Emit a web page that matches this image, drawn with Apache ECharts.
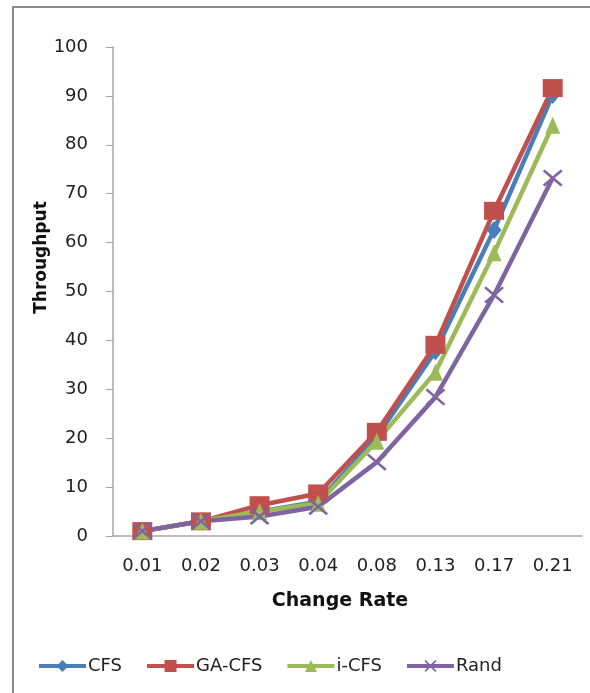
<!DOCTYPE html>
<html>
<head>
<meta charset="utf-8">
<script src="https://cdn.jsdelivr.net/npm/echarts@6/dist/echarts.min.js"></script>
<style>
  html, body { margin: 0; padding: 0; background: #ffffff; }
  #chart { width: 590px; height: 693px; }
</style>
</head>
<body>
<div id="chart"></div>
<script>
// Change rate categories on the x axis
const changeRates = ['0.01', '0.02', '0.03', '0.04', '0.08', '0.13', '0.17', '0.21'];

// Throughput per method
const cfs   = [1, 3, 5.0, 7.0, 20.3, 37.8, 62.6, 90.2];
const gaCfs = [1, 3, 6.3, 8.7, 21.3, 39.1, 66.5, 91.6];
const iCfs  = [1, 3, 5.0, 6.7, 19.4, 33.5, 57.9, 84.0];
const rand  = [1, 3, 4.0, 6.0, 15.1, 28.4, 49.3, 73.2];

// Y axis range
const yMin = 0, yMax = 100, yStep = 10;

const FONT = 'DejaVu Sans';
const crossPath = 'path://M0,1L1,0L5,4L9,0L10,1L6,5L10,9L9,10L5,6L1,10L0,9L4,5Z';

function lineSeries(name, data, color, symbol, size) {
  return {
    name: name,
    type: 'line',
    data: data,
    symbol: symbol,
    symbolSize: size,
    lineStyle: { color: color, width: 4.5 },
    itemStyle: { color: color },
    emphasis: { disabled: true },
    animation: false
  };
}

const chart = echarts.init(document.getElementById('chart'), null, { renderer: 'canvas' });
chart.setOption({
  backgroundColor: '#ffffff',
  animation: false,
  graphic: [{
    type: 'rect',
    shape: { x: 13, y: 7, width: 640, height: 720 },
    style: { fill: 'none', stroke: '#8c8c8c', lineWidth: 2 },
    silent: true,
    z: 0
  }],
  grid: { left: 113, right: 8, top: 47, bottom: 157 },
  legend: {
    left: 37,
    top: 657,
    padding: 0,
    itemWidth: 47,
    itemHeight: 15,
    itemGap: 23,
    lineStyle: { width: 4 },
    textStyle: { fontFamily: FONT, fontSize: 18, color: '#222', padding: [0, 0, 0, -3] },
    data: ['CFS', 'GA-CFS', 'i-CFS', 'Rand']
  },
  xAxis: {
    type: 'category',
    data: changeRates,
    boundaryGap: true,
    name: 'Change Rate',
    nameLocation: 'middle',
    nameGap: 56,
    nameMoveOverlap: false,
    nameTextStyle: { fontFamily: FONT, fontSize: 19, fontWeight: 'bold', color: '#111', padding: [0, 15, 0, 0] },
    axisLine: { lineStyle: { color: '#a6a6a6', width: 1.5 } },
    axisTick: { show: false },
    axisLabel: { fontFamily: FONT, fontSize: 18, color: '#222', margin: 21 },
    splitLine: { show: false }
  },
  yAxis: {
    type: 'value',
    min: yMin,
    max: yMax,
    interval: yStep,
    name: 'Throughput',
    nameLocation: 'middle',
    nameGap: 63,
    nameMoveOverlap: false,
    nameTextStyle: { fontFamily: FONT, fontSize: 17, fontWeight: 'bold', color: '#111', padding: [0, 0, 0, 68] },
    axisLine: { show: true, lineStyle: { color: '#a6a6a6', width: 1.5 } },
    axisTick: { show: true, inside: false, length: 7, lineStyle: { color: '#a6a6a6' } },
    axisLabel: { fontFamily: FONT, fontSize: 18, color: '#222', margin: 25 },
    splitLine: { show: false }
  },
  series: [
    lineSeries('CFS', cfs, '#4a7ebb', 'diamond', [15, 18]),
    lineSeries('GA-CFS', gaCfs, '#c0504d', 'rect', [20, 18]),
    lineSeries('i-CFS', iCfs, '#9bbb59', 'triangle', [15, 17]),
    lineSeries('Rand', rand, '#8064a2', crossPath, [20, 17])
  ]
});
</script>
</body>
</html>
